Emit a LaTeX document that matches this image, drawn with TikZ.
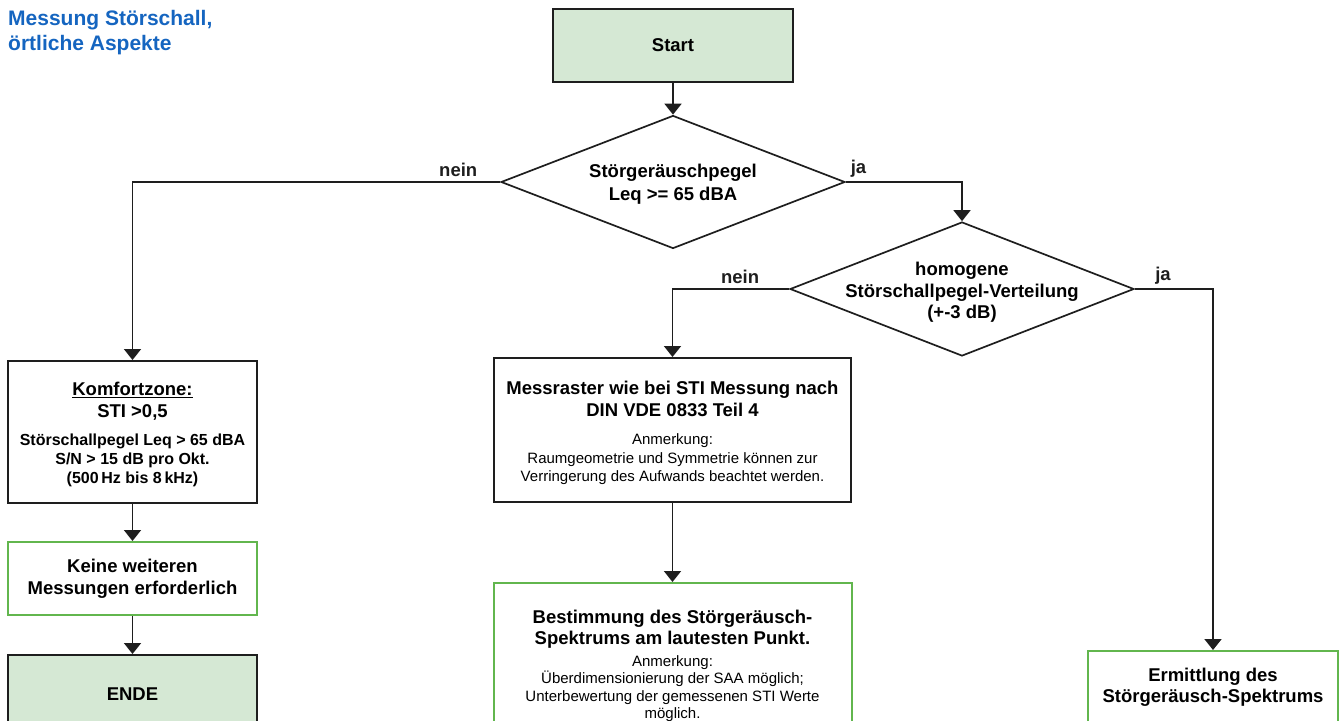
\documentclass[tikz,border=0pt]{standalone}
\usepackage{fontspec}
\setmainfont{Liberation Sans}
\usepackage{xcolor}
\definecolor{blue-700}{RGB}{21,101,192}
\definecolor{green-600}{RGB}{98,182,78}
\definecolor{green-100}{RGB}{213,232,212}
\definecolor{gray-900}{RGB}{30,30,30}
\usepackage{tikz}
\usetikzlibrary{shapes.geometric,arrows.meta,positioning}

\newcommand{\ftitle}{\fontsize{21}{25}\selectfont\bfseries}
\newcommand{\fhead}{\fontsize{18.5}{21.5}\selectfont\bfseries}
\newcommand{\fnote}{\fontsize{15}{19}\selectfont\mdseries}
\newcommand{\fnoteb}{\fontsize{16}{19}\selectfont\bfseries}

\begin{document}
\begin{tikzpicture}[
    x=1pt, y=-1pt,
    process box/.style={
        draw=#1,
        line width=2pt,
        fill=white,
        minimum width=249pt,
        minimum height=73pt,
        inner sep=0pt,
        font=\fhead,
        align=center
    },
    terminal box/.style={
        process box=gray-900,
        fill=green-100
    },
    decision/.style={
        diamond,
        draw=gray-900,
        line width=1.7pt,
        fill=white,
        minimum width=344pt,
        minimum height=133pt,
        inner sep=0pt
    },
    decision text/.style={font=\fhead, align=center, inner sep=0pt, yshift=-2pt},
    arrow/.style={-{Triangle[width=17pt,length=11pt]}, line width=1.8pt, gray-900},
    label text/.style={font=\fhead, text=gray-900, inner sep=4pt}
]
\path[use as bounding box, clip] (0,0) rectangle (1340,720);

% === TITLE ===
\node[font=\ftitle, text=blue-700, align=left, anchor=north west, inner sep=0pt] (title) at (8,10) {
    Messung Störschall,\\örtliche Aspekte
};

% === START AND FIRST DECISION ===
\node[terminal box, minimum width=240pt] (start) at (673,45.5) {Start};

\node[decision, label={[decision text]center:{Störgeräuschpegel\\[1.5pt]Leq >= 65 dBA}}] (dec1) at (673,182) {};

% === LEFT BRANCH ===
\node[process box=gray-900, minimum height=142pt] (komfort) at (132.5,432) {
    \rule{0pt}{19pt}\underline{Komfortzone:}\\
    STI >0,5\\[7pt]
    \fnoteb Störschallpegel Leq > 65 dBA\\[-2.5pt]
    \fnoteb S/N > 15 dB pro Okt.\\[-2.5pt]
    \fnoteb (500\,Hz bis 8\,kHz)
};

\node[process box=green-600, below=37pt of komfort] (keine) {
    Keine weiteren\\Messungen erforderlich
};

\node[terminal box, minimum height=78pt, below=38pt of keine] (ende) {ENDE};

% === SECOND DECISION ===
\node[decision, minimum height=134pt, label={[decision text, yshift=-1.5pt]center:{homogene\\Störschallpegel-Verteilung\\(+-3 dB)}}] (dec2) at (962,289) {};

% === MIDDLE BRANCH ===
\node[process box=gray-900, minimum width=357pt, minimum height=144pt] (messraster) at (672.5,430) {
    \rule{0pt}{20pt}Messraster wie bei STI Messung nach\\
    DIN VDE 0833 Teil 4\\[7pt]
    \fnote Anmerkung:\\[-3pt]
    \fnote Raumgeometrie und Symmetrie können zur\\[-3pt]
    \fnote Verringerung des Aufwands beachtet werden.
};

\node[process box=green-600, minimum width=358pt, minimum height=166pt, below=79pt of messraster] (bestimmung) {
    Bestimmung des Störgeräusch-\\
    Spektrums am lautesten Punkt.\\[0pt]
    \fnote Anmerkung:\\[-4pt]
    \fnote Überdimensionierung der SAA möglich;\\[-4pt]
    \fnote Unterbewertung der gemessenen STI Werte\\[-4pt]
    \fnote möglich.
};

% === RIGHT BRANCH ===
\node[process box=green-600, minimum width=250pt, minimum height=72pt] (ermittlung) at (1213,687) {
    Ermittlung des\\Störgeräusch-Spektrums
};

% === ARROWS ===
\draw[arrow] (start.south) -- (dec1.north);

% Decision 1: nein to the left, ja to decision 2
\draw[arrow] (dec1.west) -| node[label text, pos=0.057, above] {nein} (komfort.north);
\draw[arrow] (dec1.east) -| node[label text, pos=0, above right] {ja} (dec2.north);

% Decision 2: nein to Messraster, ja to Ermittlung
\draw[arrow] (dec2.west) -| node[label text, pos=0.21, above] {nein} (messraster.north);
\draw[arrow] (dec2.east) -| node[label text, pos=0.18, above] {ja} (ermittlung.north);

% Downward chains
\draw[arrow] (komfort.south) -- (keine.north);
\draw[arrow] (keine.south) -- (ende.north);
\draw[arrow] (messraster.south) -- (bestimmung.north);

\end{tikzpicture}
\end{document}
